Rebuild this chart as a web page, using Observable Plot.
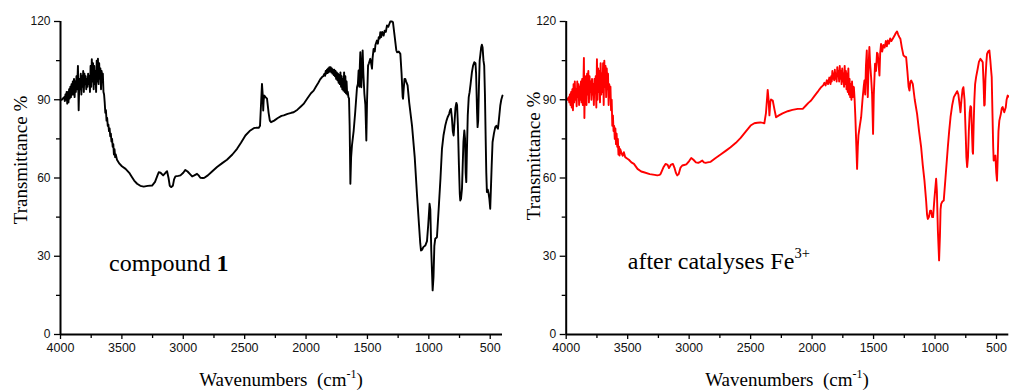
<!DOCTYPE html>
<html><head><meta charset="utf-8">
<script src="https://cdn.jsdelivr.net/npm/d3@7"></script>
<script src="https://cdn.jsdelivr.net/npm/@observablehq/plot@0.6"></script>
<style>
body{margin:0;background:#fff}
#wrap{display:flex;width:1009px;height:392px;overflow:hidden}
</style></head><body><div id="wrap"></div>
<script>
const xMajorTicks = [4000, 3500, 3000, 2500, 2000, 1500, 1000, 500];
const xMinorTicks = [3750, 3250, 2750, 2250, 1750, 1250, 750];
const yMajorTicks = [0, 30, 60, 90, 120];
const yMinorTicks = [15, 45, 75, 105];
const yTitle = "Transmittance %";

// compound 1 : [wavenumber, transmittance]
const compound1 = [[4000,90],[3990,90],[3980,90.5],[3970,91],[3965,89.5],[3960,92],[3955,90],[3950,93],[3945,88.5],[3940,93],[3935,89],[3930,94],[3925,90.5],[3920,95],[3915,91],[3910,96],[3905,92],[3900,97],[3895,92],[3890,98],[3885,91],[3880,97],[3875,93],[3870,99],[3865,94],[3858,103],[3852,86],[3846,98],[3840,94],[3835,100],[3830,92],[3825,99],[3820,95],[3815,101],[3810,93],[3805,100],[3800,96],[3795,99],[3790,94],[3785,98],[3780,95],[3775,100],[3770,96],[3765,99],[3760,93],[3755,103],[3750,95],[3745,105.5],[3740,97],[3735,104],[3730,94],[3725,103],[3720,96],[3715,101],[3710,93],[3705,105],[3700,97],[3695,105.7],[3690,96],[3685,104],[3680,98],[3675,102],[3670,94],[3665,101],[3660,97],[3655,100],[3650,93],[3645,92],[3640,89],[3635,85],[3630,86],[3625,82],[3620,83],[3615,80],[3610,80.5],[3605,78],[3600,79],[3595,76],[3590,77],[3585,74],[3580,75],[3575,72],[3570,73],[3565,69],[3560,71],[3555,68],[3550,69],[3540,67],[3520,65.5],[3500,64.5],[3470,63.5],[3440,62],[3420,60.5],[3400,59],[3376,57.8],[3350,57],[3322,56.7],[3290,57],[3254,57.1],[3230,58.5],[3210,61],[3200,62.2],[3185,62],[3164,61],[3145,62],[3132,62.6],[3120,60],[3110,57],[3099,56.5],[3085,57],[3075,59.5],[3064,60.6],[3040,60.8],[3023,61],[3000,62],[2983,63.1],[2965,62.5],[2945,61.5],[2928,60.6],[2910,61],[2888,61.6],[2875,61],[2861,60.1],[2840,60],[2828,60.1],[2800,61],[2770,62.3],[2725,64.2],[2680,65.8],[2644,67],[2600,69],[2562,71.2],[2530,73.5],[2494,76.3],[2460,78],[2426,79.1],[2400,79.3],[2386,79.2],[2375,80],[2365,90],[2359,96.1],[2353,92],[2349,85.9],[2345,90],[2340,91.6],[2330,91],[2318,90.4],[2305,85],[2295,82],[2285,81.4],[2260,82],[2230,83],[2200,83.8],[2182,84],[2150,84.6],[2120,85],[2101,85.2],[2070,86.2],[2040,87.5],[2020,88.4],[1990,90.5],[1960,92.5],[1938,93.5],[1920,95],[1900,96.5],[1885,97.8],[1870,98.7],[1860,99],[1850,100],[1845,99.2],[1840,101],[1835,100],[1830,101.5],[1825,100.2],[1820,102],[1815,100.5],[1810,102.5],[1805,101],[1800,102.5],[1795,100.5],[1790,102],[1785,100],[1780,101.5],[1775,99.5],[1770,101.5],[1765,99],[1760,101],[1755,98],[1750,100.5],[1745,97.5],[1740,100],[1735,96.5],[1730,99.5],[1725,96],[1720,100.5],[1715,95],[1710,99],[1705,94],[1700,98],[1695,93.5],[1690,100.5],[1685,93],[1680,99],[1675,92.5],[1670,97],[1665,92],[1660,93],[1655,91],[1650,90.5],[1645,80],[1639,57.8],[1633,68],[1626,72.5],[1612,78.2],[1600,85],[1585,94.8],[1578,96],[1572,101.2],[1566,95],[1562,103],[1558,108.2],[1554,100],[1550,94.8],[1545,101],[1539,108.9],[1533,100],[1525,92.3],[1517,88],[1509,74.4],[1503,90],[1495,103.1],[1488,104],[1477,105.7],[1470,104],[1463,101.9],[1458,106],[1450,109.5],[1440,108.5],[1435,111],[1423,112.7],[1415,111.5],[1408,114],[1400,113.5],[1395,115.9],[1388,114],[1380,116],[1368,114.6],[1360,116.5],[1350,116],[1341,118.5],[1330,118],[1314,120],[1300,120],[1292,119.7],[1280,115],[1265,109],[1259,108.2],[1245,108.5],[1232,107.6],[1222,100],[1213,91],[1210,90.4],[1205,94],[1198,98],[1192,98],[1185,97],[1173,95.5],[1160,89],[1137,80.1],[1115,68],[1096,53.3],[1080,42],[1070,35],[1064,32.2],[1055,32.5],[1045,33.5],[1029,34.1],[1015,35.8],[1005,42],[994,50.1],[988,48],[980,32],[969,16.9],[962,22],[955,34],[948,36.7],[934,37.3],[920,48],[905,60],[893,71.2],[880,76.5],[866,80.1],[856,82],[847,83.3],[835,84.5],[827,86],[820,86.5],[812,83],[805,78],[798,76.3],[790,82],[783,87],[776,88.8],[770,88],[763,80],[755,65],[748,54],[744,51.4],[738,52],[730,55.9],[724,65],[718,74],[711,78.2],[705,75],[700,62],[695,58.4],[690,70],[683,84],[675,91],[668,92.9],[660,96],[649,100.6],[640,103],[630,104.4],[620,104],[615,100],[607,85],[603,79.5],[598,82],[592,95],[586,105],[581,107],[574,110],[568,111.1],[562,110],[555,105],[549,103.1],[543,92],[537,75],[532,62],[527,54.6],[520,55.5],[513,54],[507,52],[500,48.2],[495,55],[488,65],[481,73.7],[470,77],[459,79.5],[450,80],[445,79.5],[437,78.9],[430,82],[418,87.8],[410,90],[400,91.6]];

// after catalyses Fe3+ : [wavenumber, transmittance]
const afterFe = [[4000,90],[3990,90],[3980,91],[3975,89],[3970,92],[3965,88],[3960,93],[3955,87],[3950,94],[3945,86],[3940,96],[3935,89],[3930,97],[3925,90],[3920,94],[3915,87.5],[3910,97],[3905,91],[3900,96],[3895,88],[3890,95],[3885,90],[3880,97],[3875,89],[3870,98],[3865,88],[3860,96],[3856,106],[3852,83],[3848,95],[3840,99],[3835,88],[3830,100],[3825,92],[3820,101],[3815,89],[3810,99],[3805,93],[3800,97],[3795,90],[3790,98],[3785,92],[3780,96],[3775,88],[3770,98],[3765,94],[3760,99],[3755,87],[3750,105.5],[3745,90],[3740,102],[3735,93],[3730,101],[3725,89],[3720,104],[3715,92],[3710,100],[3705,93],[3700,104],[3695,88],[3690,105],[3685,95],[3680,103],[3675,91],[3670,102],[3665,94],[3660,100],[3655,88],[3650,96],[3645,92],[3640,95],[3635,86],[3630,90],[3625,80],[3620,84],[3615,78],[3610,80],[3605,75],[3600,79],[3595,73],[3590,77],[3585,72],[3580,75],[3575,69],[3570,72],[3566,68.6],[3560,71],[3550,69.5],[3540,68.5],[3531,69.9],[3520,68],[3505,67.5],[3490,67],[3470,66],[3449,65.4],[3420,63.5],[3390,62.5],[3368,62.2],[3320,61.5],[3280,61.2],[3259,61],[3240,61.2],[3232,61.6],[3210,64],[3192,65.4],[3175,65],[3164,63.8],[3150,65],[3132,65.4],[3120,64],[3108,62],[3097,61],[3085,61.5],[3070,64],[3056,64.8],[3040,65],[3023,65.2],[3000,66.5],[2983,67.7],[2965,67],[2945,66],[2926,65.8],[2910,66.2],[2893,66.7],[2880,66],[2866,65.8],[2850,66],[2825,66.2],[2790,67.5],[2744,69],[2700,70.5],[2663,71.8],[2620,73.5],[2581,75.4],[2540,77.8],[2500,80.1],[2470,81],[2445,81.2],[2420,81.3],[2388,81],[2375,85],[2361,93.8],[2354,90],[2347,84],[2340,89],[2334,90.1],[2320,89.7],[2305,86],[2293,83.3],[2270,84],[2240,84.8],[2198,85.6],[2160,86.1],[2117,86.5],[2090,86.5],[2076,86.5],[2050,87.8],[2030,88.8],[2008,89.7],[1980,91.5],[1955,93],[1940,94],[1927,94.8],[1910,95.5],[1900,96.5],[1890,95.5],[1880,97.5],[1870,96],[1860,98.5],[1850,96],[1845,99],[1840,97],[1835,101],[1830,98],[1825,100],[1820,97.5],[1815,101.5],[1810,98],[1805,100],[1800,97],[1795,102.5],[1790,99],[1785,101],[1780,97],[1775,103],[1770,98],[1765,101],[1760,96],[1755,102],[1750,97],[1745,100],[1740,95],[1735,103],[1730,96],[1725,101],[1720,94],[1715,100],[1710,93],[1705,102],[1700,92],[1695,98],[1690,91],[1685,96],[1680,90],[1675,97],[1670,91],[1665,95],[1660,94.8],[1654,90],[1648,83.3],[1640,72],[1634,63.5],[1628,72],[1623,76.3],[1612,80],[1601,83.3],[1590,90],[1580,95],[1574,97.4],[1568,92],[1562,103],[1555,108.9],[1551,98],[1547,91],[1541,102],[1534,110.2],[1528,104],[1520,98.7],[1512,92],[1504,76.9],[1498,92],[1488,103.8],[1480,101],[1472,108],[1466,107.6],[1460,104],[1452,99.3],[1446,108],[1439,111.4],[1430,108.5],[1420,111],[1410,110],[1400,112.5],[1392,110.5],[1385,112.7],[1375,111.5],[1365,113.5],[1355,112.5],[1344,113.4],[1330,114.5],[1320,115.5],[1309,116.2],[1300,115],[1290,114],[1282,113.4],[1270,110],[1257,107],[1245,106.5],[1235,106.3],[1225,101],[1215,95],[1208,93.5],[1200,97],[1194,97.4],[1181,96.1],[1165,90],[1146,84.6],[1130,78],[1113,71.8],[1100,65],[1086,59],[1072,51],[1065,46],[1059,44.3],[1050,45],[1040,47.5],[1032,47.5],[1024,45],[1016,45],[1005,52],[991,59.7],[985,55],[977,40],[967,28.4],[960,38],[955,48],[950,50.1],[940,51],[929,51.4],[915,60],[896,71.8],[885,78],[874,83.3],[860,88],[847,91],[835,92],[820,93.3],[810,92],[800,88],[793,85.2],[785,90],[776,94],[769,94.8],[760,90],[750,76],[745,68],[739,64.2],[732,68],[725,78],[718,85],[712,87.5],[706,87.2],[700,78],[694,70],[691,69.3],[686,80],[680,90],[674,96],[666,98.7],[653,101.9],[643,104.5],[631,105.7],[620,105],[612,104.4],[605,96],[600,87.8],[596,88],[590,98],[583,104],[577,107.6],[568,108.5],[558,108.9],[550,105],[545,102],[539,98.7],[533,85],[527,72],[523,66.7],[516,67.5],[509,68.6],[502,62],[496,59],[490,68],[484,78],[477,82],[465,84.5],[457,86.8],[450,87.2],[437,85.2],[425,87],[418,90],[409,91.6],[400,91.2]];

const SERIF = "'Liberation Serif','Times New Roman',serif";
const SANS = "'Liberation Sans',Arial,sans-serif";

// rich text (tspans) drawn as a render-function mark
function richText(parts, place, {fontSize, anchor = "start", rotate = 0}) {
  return (index, scales, values, dims) => {
    const [px, py] = place(scales, dims);
    const g = d3.create("svg:g");
    const t = g.append("text")
      .attr("x", px).attr("y", py)
      .attr("font-family", SERIF).attr("font-size", fontSize)
      .attr("text-anchor", anchor).attr("fill", "#000");
    if (rotate) t.attr("transform", `rotate(${rotate},${px},${py})`);
    for (const p of parts) {
      const s = t.append("tspan").text(p.text);
      if (p.bold) s.attr("font-weight", "bold");
      if (p.size) s.attr("font-size", p.size);
      if (p.dy) s.attr("dy", p.dy);
    }
    return g.node();
  };
}

function panel({data, color, width, marginLeft, marginRight, labelParts, labelAt, yTitleDx, yTitleY}) {
  return Plot.plot({
    width, height: 392,
    marginTop: 21, marginBottom: 58, marginLeft, marginRight,
    style: {background: "#fff", fontFamily: SANS, overflow: "visible"},
    x: {domain: [4000, 400]},
    y: {domain: [0, 120]},
    marks: [
      Plot.axisX({ticks: xMinorTicks, tickSize: 4, tickFormat: () => "", label: null, strokeWidth: 1.3}),
      Plot.axisX({ticks: xMajorTicks, tickSize: 5, tickPadding: 4, tickFormat: d => String(d), label: null, fontSize: 12.5, strokeWidth: 1.3, fill: "#111"}),
      Plot.axisY({ticks: yMinorTicks, tickSize: 4, tickFormat: () => "", label: null, strokeWidth: 1.3}),
      Plot.axisY({ticks: yMajorTicks, tickSize: 6, tickPadding: 4, tickFormat: d => String(d), label: null, fontSize: 12, strokeWidth: 1.3, fill: "#111"}),
      Plot.line(data, {x: d => d[0], y: d => d[1], stroke: color, strokeWidth: 1.9, strokeLinejoin: "round"}),
      Plot.ruleY([0], {strokeWidth: 2}),
      Plot.ruleX([4000], {strokeWidth: 2}),
      richText(labelParts, (s) => [s.x(labelAt[0]), s.y(labelAt[1])], {fontSize: 24}),
      richText([{text: yTitle}], (s, d) => [d.marginLeft + yTitleDx, yTitleY], {fontSize: 19, anchor: "middle", rotate: -90}),
      richText([{text: "Wavenumbers\u2002(cm"}, {text: "-1", size: 12, dy: -8}, {text: ")", dy: 8}],
        (s, d) => [(d.marginLeft + d.width - d.marginRight) / 2, 386], {fontSize: 19, anchor: "middle"})
    ]
  });
}

const wrap = document.getElementById("wrap");
wrap.append(panel({
  data: compound1, color: "#000", width: 505, marginLeft: 60, marginRight: 3,
  labelParts: [{text: "compound "}, {text: "1", bold: true}], labelAt: [3600, 24],
  yTitleDx: -33.5, yTitleY: 160
}));
wrap.append(panel({
  data: afterFe, color: "#ff0000", width: 504, marginLeft: 60.7, marginRight: 0.7,
  labelParts: [{text: "after catalyses Fe"}, {text: "3+", size: 14.5, dy: -11}], labelAt: [3495, 25],
  yTitleDx: -26, yTitleY: 156
}));
</script>
</body></html>
